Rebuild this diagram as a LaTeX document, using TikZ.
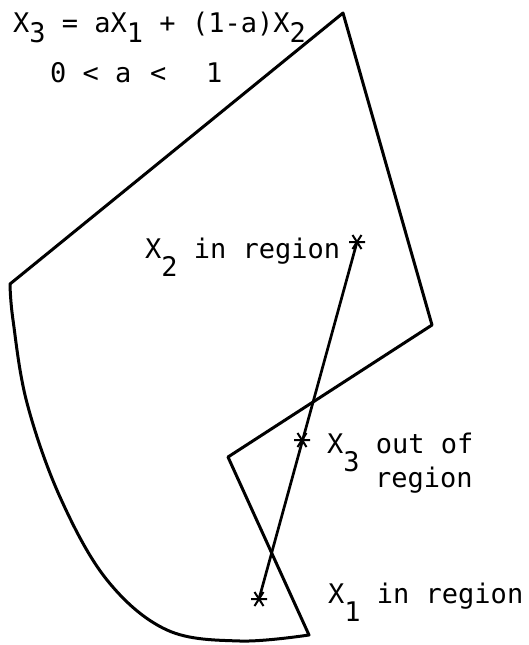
\documentclass[tikz,border=0pt]{standalone}
\usepackage{fontspec}
\setmonofont{DejaVu Sans Mono}
\usepackage{tikz}
\usetikzlibrary{positioning}

% typewriter subscript: same size, dropped below the line
\newcommand{\lowr}[2][18pt]{\raisebox{-#1}{#2}}

\begin{document}
\begin{tikzpicture}[
    x=1pt, y=-1pt,
    outline/.style={line width=3pt, line join=round},
    segment/.style={line width=2.7pt},
    lbl/.style={anchor=base west, inner sep=0pt, font=\ttfamily\fontsize{27}{34}\selectfont},
    ast/.pic={\draw[line width=2pt] (-8,0) -- (8,0) (-4.5,-7) -- (4.5,7) (-4.5,7) -- (4.5,-7);},
]
\useasboundingbox (0,0) rectangle (529,645);

% region boundary
\draw[outline] (10,284) -- (343,13) -- (432,325) -- (228,457) -- (309,635)
  -- plot[smooth, tension=0.6] coordinates {(309,635) (240,641) (167,630) (107,580) (60,497) (27,403) (13,320) (10,284)} -- cycle;

% the three points
\coordinate (x1) at (259,599);
\coordinate (x2) at (357,242);
\coordinate (x3) at (302,440);

\draw[segment] (x1) -- (x2);
\pic at (x1) {ast};
\pic at (x2) {ast};
\pic at (x3) {ast};

% labels
\node[lbl] (eqn) at (13,32) {X\lowr[10pt]{3} = aX\lowr[10pt]{1} + (1-a)X\lowr[10pt]{2}};
\node[lbl] (range) at (50,82) {0 < a\hspace{18.6pt}<\hspace{39.8pt}1};
\node[lbl] (lab2) at (145,258) {X\lowr{2} in region};
\node[lbl] (lab3) at (327,453) {X\lowr{3} out of};
\node[lbl] (lab3b) at (375,487) {region};
\node[lbl] (lab1) at (328,603) {X\lowr{1} in region};

\end{tikzpicture}
\end{document}
